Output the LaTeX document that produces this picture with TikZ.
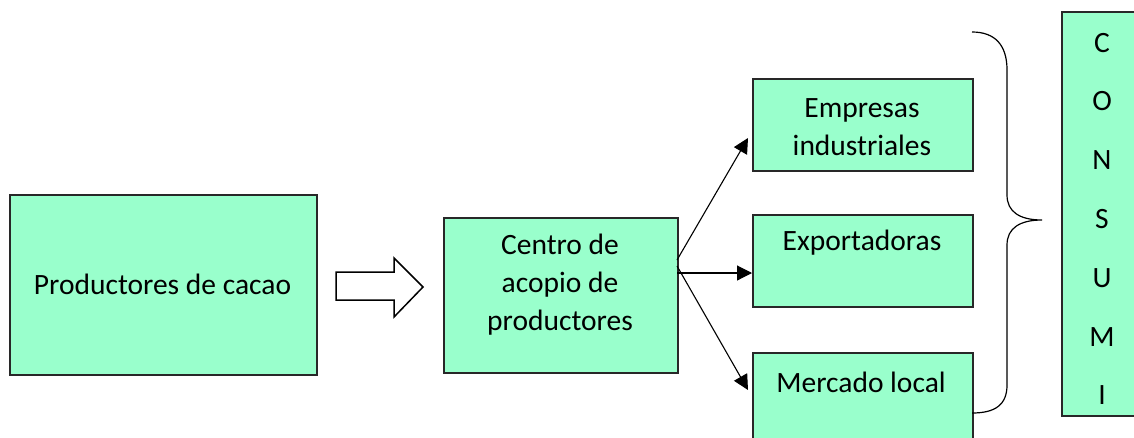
\documentclass[tikz,border=0pt]{standalone}
\usepackage{fontspec}
\setmainfont{Carlito}
\usetikzlibrary{arrows.meta}
\definecolor{boxfill}{RGB}{153,255,204}
\definecolor{boxline}{RGB}{40,40,40}
\begin{document}
\begin{tikzpicture}[x=1pt,y=-1pt,
  box/.style={draw=boxline, line width=1.5pt, fill=boxfill, anchor=north west, inner sep=0pt},
  lbl/.style={font=\fontsize{29.5}{38}\selectfont, align=center, inner sep=0pt},
  conn/.style={line width=1.1pt, -{Triangle[length=15pt,width=15pt]}}]
\useasboundingbox (0,0) rectangle (1134,437);
\begin{scope}
\clip (0,0) rectangle (1134,437);
% boxes
\node[box, minimum width=307pt, minimum height=180pt] (prod) at (9,194) {};
\node[box, minimum width=234pt, minimum height=155pt] (centro) at (443,217) {};
\node[box, minimum width=220pt, minimum height=92pt] (emp) at (752,78) {};
\node[box, minimum width=220pt, minimum height=92pt] (exp) at (752,214) {};
\node[box, minimum width=220pt, minimum height=110pt] (merc) at (752,352) {};
\node[box, minimum width=84pt, minimum height=404pt] (cons) at (1061,11) {};
% labels
\node[lbl] (tprod) at (162.5,284) {Productores de cacao};
\node[lbl] (tcentro) at (560,285) {Centro de\\acopio de\\productores};
\node[lbl] (temp) at (862,127.5) {Empresas\\industriales};
\node[lbl] (texp) at (862,243) {Exportadoras};
\node[lbl] (tmerc) at (861,382) {Mercado local};
\node[lbl, font=\fontsize{29.5}{58.8}\selectfont] (tcons) at (1102,219) {C\\O\\N\\S\\U\\M\\I};
% block arrow
\draw[line width=1.5pt, fill=white, line join=miter]
  (336,272) -- (394,272) -- (394,258) -- (423,287) -- (394,317) -- (394,300) -- (336,300) -- cycle;
% connectors
\coordinate (o1) at (677,260);
\coordinate (o2) at (677,273);
\coordinate (o3) at (677,266);
\draw[conn] (o1) -- (748,138) coordinate (e1);
\draw[conn] (o2) -- (exp.west |- o2);
\draw[conn] (o3) -- (748,390) coordinate (e3);
% brace
\draw[line width=1.2pt] (972,32) .. controls (995,32) and (1007,45) .. (1007,70)
  -- (1007,195) .. controls (1007,212) and (1020,220) .. (1042,220)
  .. controls (1020,220) and (1007,228) .. (1007,245)
  -- (1007,385) .. controls (1007,405) and (995,413) .. (972,413);
\end{scope}
\end{tikzpicture}
\end{document}
